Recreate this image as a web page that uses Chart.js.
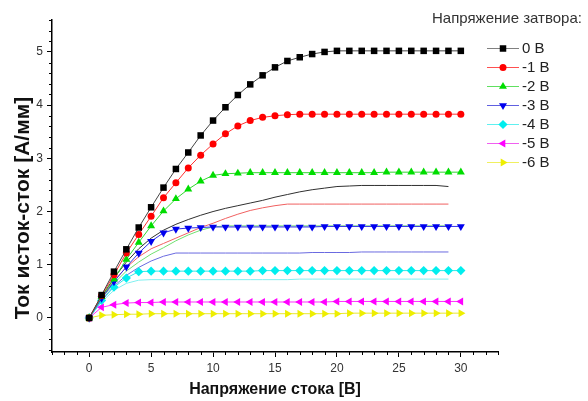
<!DOCTYPE html>
<html><head><meta charset="utf-8">
<script src="https://cdn.jsdelivr.net/npm/chart.js@4/dist/chart.umd.min.js"></script>
<style>html,body{margin:0;padding:0;background:#fff}</style>
</head><body>
<canvas id="c" width="588" height="401"></canvas>
<script>
const drainVoltage = [0,1,2,3,4,5,6,7,8,9,10,11,12,13,14,15,16,17,18,19,20,21,22,23,24,25,26,27,28,29,30];
const gateLabels = ['0 В','-1 В','-2 В','-3 В','-4 В','-5 В','-6 В'];
const legendTitle = 'Напряжение затвора:';
const xTitle = 'Напряжение стока [В]';
const yTitle = 'Ток исток-сток [А/мм]';
const xTickValues = [0,5,10,15,20,25,30];
const yTickValues = [0,1,2,3,4,5];

const cur0 = [0,0.43,0.87,1.29,1.70,2.08,2.45,2.80,3.11,3.43,3.71,3.96,4.19,4.39,4.56,4.71,4.83,4.90,4.96,5.00,5.02,5.02,5.02,5.02,5.02,5.02,5.02,5.02,5.02,5.02,5.02];
const cur1 = [0,0.42,0.81,1.22,1.57,1.91,2.26,2.54,2.82,3.06,3.27,3.46,3.61,3.71,3.77,3.80,3.82,3.83,3.83,3.83,3.83,3.83,3.83,3.83,3.83,3.83,3.83,3.83,3.83,3.83,3.83];
const cur2 = [0,0.40,0.73,1.10,1.42,1.73,2.01,2.24,2.42,2.57,2.68,2.71,2.72,2.73,2.73,2.73,2.73,2.73,2.73,2.73,2.73,2.73,2.73,2.73,2.74,2.74,2.74,2.74,2.74,2.74,2.74];
const cur3 = [0,0.37,0.68,0.96,1.22,1.44,1.60,1.67,1.69,1.70,1.71,1.71,1.71,1.71,1.71,1.71,1.71,1.71,1.71,1.72,1.72,1.72,1.72,1.72,1.72,1.72,1.72,1.72,1.72,1.72,1.72];
const cur4 = [0,0.33,0.58,0.75,0.87,0.88,0.88,0.88,0.88,0.88,0.88,0.88,0.88,0.88,0.89,0.89,0.89,0.89,0.89,0.89,0.89,0.89,0.89,0.89,0.89,0.89,0.89,0.89,0.89,0.89,0.89];
const cur5 = [0,0.20,0.25,0.28,0.29,0.29,0.30,0.30,0.30,0.30,0.30,0.30,0.30,0.30,0.30,0.30,0.30,0.30,0.30,0.30,0.31,0.31,0.31,0.31,0.31,0.31,0.31,0.31,0.31,0.31,0.31];
const cur6 = [0,0.05,0.06,0.07,0.07,0.08,0.08,0.08,0.08,0.08,0.08,0.08,0.08,0.08,0.08,0.08,0.08,0.08,0.08,0.08,0.08,0.09,0.09,0.09,0.09,0.09,0.09,0.09,0.09,0.09,0.09];

const ref0 = [0,0.40,0.75,1.05,1.30,1.50,1.65,1.76,1.85,1.93,2.00,2.06,2.11,2.16,2.21,2.27,2.32,2.37,2.41,2.44,2.47,2.48,2.49,2.49,2.49,2.49,2.49,2.49,2.49,2.47];
const ref1 = [0,0.38,0.70,0.95,1.15,1.30,1.40,1.50,1.60,1.70,1.78,1.87,1.95,2.02,2.07,2.11,2.14,2.14,2.14,2.14,2.14,2.14,2.14,2.14,2.14,2.14,2.14,2.14,2.14,2.14];
const ref2 = [0,0.36,0.65,0.88,1.05,1.20,1.32,1.45,1.56,1.65,1.71,1.73,1.73,1.73,1.73,1.73,1.73,1.73,1.73,1.73,1.73,1.73,1.73,1.73,1.73,1.73,1.73,1.73,1.73,1.73];
const ref3 = [0,0.33,0.60,0.80,0.95,1.07,1.16,1.22,1.22,1.22,1.22,1.22,1.22,1.22,1.22,1.22,1.22,1.22,1.23,1.23,1.23,1.23,1.24,1.24,1.24,1.24,1.24,1.24,1.24,1.24];
const ref4 = [0,0.30,0.52,0.65,0.71,0.72,0.72,0.72,0.72,0.72,0.72,0.72,0.72,0.72,0.72,0.72,0.72,0.73,0.73,0.73,0.73,0.73,0.73,0.73,0.73,0.73,0.73,0.73,0.73,0.73];

const markerColors = ['#000000','#ff0000','#00dd00','#0000ee','#00eeee','#ff00ff','#eeee00'];
const markerLines = ['#444444','#ff3030','#30d830','#3030e8','#30e8e8','#ff30ff','#e8e830'];
const legendLines = ['#808080','#ff5050','#60e060','#6060e0','#60f0f0','#f060f0','#f0f060'];
const markerStyles = ['rect','circle','triangle','triangle','rectRot','triangle','triangle'];
const markerRot = [0,0,0,180,0,-90,90];
const markerRadius = [4.6,3.5,4.6,4.6,4.6,4.6,4.6];
const refColors = ['#303030','#f06060','#70e070','#6a6ae0','#80f0f0'];

const curves = [cur0,cur1,cur2,cur3,cur4,cur5,cur6];
const refs = [ref0,ref1,ref2,ref3,ref4];

const datasets = [];
curves.forEach((arr,i)=>{
  datasets.push({
    label: gateLabels[i],
    data: arr.map((v,k)=>({x:drainVoltage[k], y:v})),
    borderColor: markerLines[i], borderWidth: 1,
    backgroundColor: markerColors[i],
    pointStyle: markerStyles[i], rotation: markerRot[i],
    pointRadius: markerRadius[i], pointBorderWidth: 0,
    pointBackgroundColor: markerColors[i], pointBorderColor: markerColors[i],
    tension: 0, fill: false
  });
});
refs.forEach((arr,i)=>{
  datasets.push({
    label: 'ref'+i,
    data: arr.map((v,k)=>({x:drainVoltage[k], y:v})),
    borderColor: refColors[i], borderWidth: 1,
    pointRadius: 0, tension: 0, fill: false
  });
});

const decor = {
  id: 'decor',
  afterDraw(chart){
    const ctx = chart.ctx, xs = chart.scales.x, ys = chart.scales.y;
    ctx.save();
    ctx.strokeStyle = '#000'; ctx.lineWidth = 1;
    // minor ticks
    for (let v = -3; v <= 33; v++) {
      if (v % 5 === 0) continue;
      const px = Math.round(xs.getPixelForValue(v)) + 0.5;
      ctx.beginPath(); ctx.moveTo(px, ys.bottom); ctx.lineTo(px, ys.bottom + 3); ctx.stroke();
    }
    for (let k = -3; k <= 28; k++) {
      if (k % 5 === 0) continue;
      const py = Math.round(ys.getPixelForValue(k * 0.2)) + 0.5;
      ctx.beginPath(); ctx.moveTo(xs.left, py); ctx.lineTo(xs.left - 3, py); ctx.stroke();
    }
    // axis titles
    ctx.fillStyle = '#111';
    ctx.font = 'bold 16px "Liberation Sans", Arial, sans-serif';
    ctx.textAlign = 'center'; ctx.textBaseline = 'alphabetic';
    ctx.fillText(xTitle, (xs.left + xs.right) / 2, 394);
    ctx.save();
    ctx.translate(29, 208); ctx.rotate(-Math.PI/2);
    ctx.font = 'bold 21px "Liberation Sans", Arial, sans-serif';
    ctx.fillText(yTitle, 0, 0);
    ctx.restore();
    // legend
    ctx.textAlign = 'left';
    ctx.fillStyle = '#333';
    ctx.font = '15px "Liberation Sans", Arial, sans-serif';
    ctx.fillText(legendTitle, 432, 23);
    for (let i = 0; i < gateLabels.length; i++) {
      const cy = 48 + i * 19;
      ctx.strokeStyle = legendLines[i]; ctx.lineWidth = 1;
      ctx.beginPath(); ctx.moveTo(487, cy + 0.5); ctx.lineTo(519, cy + 0.5); ctx.stroke();
      ctx.fillStyle = markerColors[i]; ctx.strokeStyle = markerColors[i];
      Chart.helpers.drawPoint(ctx, {pointStyle: markerStyles[i], rotation: markerRot[i], radius: markerRadius[i], borderWidth: 0}, 503, cy + 0.5);
      ctx.fillStyle = '#222';
      ctx.font = '15px "Liberation Sans", Arial, sans-serif';
      ctx.fillText(gateLabels[i], 522, cy + 5);
    }
    ctx.restore();
  }
};

new Chart(document.getElementById('c'), {
  type: 'line',
  data: { datasets },
  options: {
    responsive: false, animation: false, devicePixelRatio: 1,
    layout: { padding: { top: 20, right: 90, left: 0, bottom: 0 } },
    plugins: { legend: { display: false }, tooltip: { enabled: false } },
    scales: {
      x: {
        type: 'linear', min: -3, max: 33,
        afterFit(s){ s.height = 49; },
        afterBuildTicks(s){ s.ticks = xTickValues.map(v=>({value:v})); },
        grid: { drawOnChartArea: false, drawTicks: true, tickLength: 5, color: '#000', tickColor: '#000' },
        border: { display: true, color: '#000', width: 1.5 },
        ticks: { autoSkip: false, maxRotation: 0, padding: 4, color: '#333', font: { family: '"Liberation Sans", Arial, sans-serif', size: 12 } }
      },
      y: {
        type: 'linear', min: -0.64, max: 5.6,
        afterFit(s){ s.width = 52; },
        afterBuildTicks(s){ s.ticks = yTickValues.map(v=>({value:v})); },
        grid: { drawOnChartArea: false, drawTicks: true, tickLength: 5, color: '#000', tickColor: '#000' },
        border: { display: true, color: '#000', width: 1.5 },
        ticks: { autoSkip: false, padding: 4, color: '#333', font: { family: '"Liberation Sans", Arial, sans-serif', size: 12 } }
      }
    }
  },
  plugins: [decor]
});
</script>
</body></html>
